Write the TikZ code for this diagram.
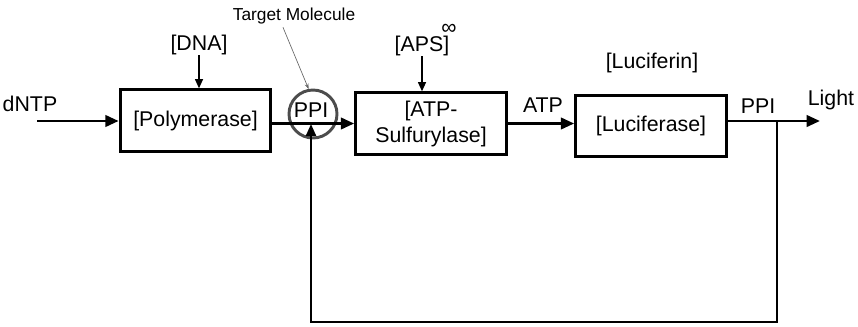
\documentclass[tikz,border=0pt]{standalone}
\usepackage{fontspec}
\setmainfont{Liberation Sans}
\usepackage{tikz}
\usetikzlibrary{arrows.meta,positioning,calc}

\begin{document}
\begin{tikzpicture}[
            x=0.75pt, y=-0.75pt,
            >=Stealth,
            font=\fontsize{16}{19.5}\selectfont,
            process/.style={
                draw,
                rectangle,
                align=center,
                minimum width=113pt,
                minimum height=46pt,
                inner sep=0pt,
                line width=2.2pt
            },
            arrow/.style={
                -{Triangle[length=10pt,width=8.5pt]},
                line width=2.2pt
            },
            feed/.style={
                -{Triangle[length=9pt,width=7.5pt]},
                line width=1.6pt
            },
            small/.style={
                -{Triangle[length=7pt,width=6pt]},
                line width=1.1pt
            },
            ring/.style={
                circle,
                draw=black!70,
                line width=2.2pt,
                minimum size=36pt,
                inner sep=0pt
            },
            siglabel/.style={
                inner sep=0pt
            }
            ]
            \useasboundingbox (0,0) rectangle (858,326);

            % reaction boxes
            \node[process] (poly) at (195.5,120.5) {[Polymerase]};
            \node[process] (sulf) at (431,123.5) {[ATP-\\Sulfurylase]};
            \node[process] (luc) at (651,126) {[Luciferase]};

            \node[ring] (ppi) at (313,114) {};
            \node[siglabel] (ppitxt) at (311,110) {PPI};

            % labels
            \coordinate (dntpin) at (37,121);
            \node[siglabel] (dntp) at (30,104) {dNTP};
            \node[siglabel] (dna) at (199,45) {[DNA]};
            \node[siglabel, font=\fontsize{13}{15}\selectfont] (target) at (294,16) {Target Molecule};
            \node[siglabel] (aps) at (422,46) {[APS]};
            \node[siglabel] (inf) at (449,29) {∞};
            \node[siglabel] (atp) at (543,105) {ATP};
            \node[siglabel] (lucfn) at (652,63) {[Luciferin]};
            \node[siglabel] (ppiout) at (758,106) {PPI};
            \node[siglabel] (light) at (831,100) {Light};

            \coordinate (lightend) at (820,121);
            \coordinate (branch) at (777,121);
            \coordinate (loopcorner) at (777,322);

            \draw[arrow] (dntpin) -- (dntpin -| poly.west);
            \draw[small] (dna.south) -- (dna.south |- poly.north);
            \draw[small] (aps.south) -- (aps.south |- sulf.north);
            \draw[black!60, line width=0.5pt, -{Stealth[length=4pt,width=3pt]}]
            ($(target.south)+(-11,3)$) -- (ppi.100);

            \draw[arrow] (poly.east |- sulf.west) -- (sulf.west);
            \draw[arrow] (sulf.east) -- (sulf.east -| luc.west);
            \draw[arrow] (luc.east |- lightend) -- (lightend);

            % PPI feedback loop
            \draw[feed] (branch) -- (loopcorner) -| ($(ppi.center)+(-2,10)$);

        \end{tikzpicture}
\end{document}
